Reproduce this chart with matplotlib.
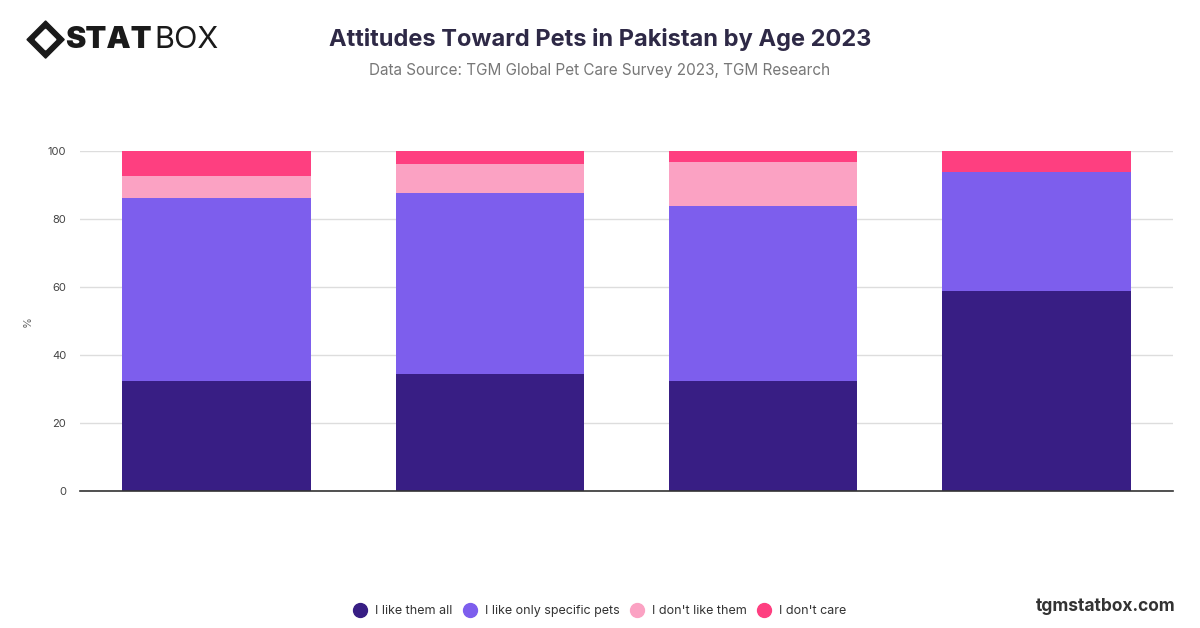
import matplotlib.pyplot as plt
import matplotlib.patches as patches
import numpy as np

plt.rcParams['font.family'] = ['Inter', 'DejaVu Sans']

age_groups = ['18-24', '25-34', '35-44', '45+']
series_names = ['I like them all', 'I like only specific pets', "I don't like them", "I don't care"]
like_all = [32.4, 34.3, 32.3, 58.8]
like_specific = [53.7, 53.3, 51.5, 35.1]
dont_like = [6.5, 8.6, 12.9, 0.0]
dont_care = [7.4, 3.8, 3.3, 6.1]
colors = ['#381e84', '#7d5eed', '#fba2c3', '#fe3f80']


fig = plt.figure(figsize=(12, 6.28), dpi=100)
ax = fig.add_axes([0.0667, 0.218, 0.9108, 0.5414])

x = np.arange(len(age_groups))
bottom = np.zeros(len(age_groups))
for vals, name, col in zip([like_all, like_specific, dont_like, dont_care], series_names, colors):
    ax.bar(x, vals, width=0.69, bottom=bottom, color=col, label=name, zorder=2)
    bottom = bottom + np.array(vals)

ax.set_xlim(-0.5, 3.5)
ax.set_ylim(0, 100)
ax.set_yticks([0, 20, 40, 60, 80, 100])
ax.set_xticks([])
ax.grid(axis='y', color='#dddddd', linewidth=1, zorder=0)
for s in ['top', 'right', 'left']:
    ax.spines[s].set_visible(False)
ax.spines['bottom'].set_color('#333333')
ax.spines['bottom'].set_linewidth(1.2)
ax.tick_params(axis='y', length=0, pad=10, labelsize=8, labelcolor='#444444')
ax.set_ylabel('%', fontsize=8, color='#666666')
ax.yaxis.set_label_coords(-0.043, 0.5)

# title block
fig.text(0.5, 0.937, 'Attitudes Toward Pets in Pakistan by Age 2023', ha='center', va='center',
         fontsize=17, fontweight='bold', color='#2e2946')
fig.text(0.5, 0.887, 'Data Source: TGM Global Pet Care Survey 2023, TGM Research', ha='center', va='center',
         fontsize=11, color='#777777')

# logo
cx, cy = 0.038, 0.937
d = 0.0155
asp = 1200 / 628
diamond = patches.Polygon([[cx - d, cy], [cx, cy + d * asp], [cx + d, cy], [cx, cy - d * asp]],
                          closed=True, transform=fig.transFigure, color='#1a1a1a')
fig.patches.append(diamond)
d2 = d * 0.55
inner = patches.Polygon([[cx - d2, cy], [cx, cy + d2 * asp], [cx + d2, cy], [cx, cy - d2 * asp]],
                        closed=True, transform=fig.transFigure, color='white')
fig.patches.append(inner)
fig.text(0.054, 0.937, 'STAT', ha='left', va='center', fontsize=22, fontweight='black', color='#1a1a1a')
fig.text(0.1285, 0.937, 'BOX', ha='left', va='center', fontsize=22, color='#1a1a1a')

# legend
handles = [plt.Line2D([], [], marker='o', linestyle='', markersize=10, color=c) for c in colors]
fig.legend(handles, series_names, loc='center', bbox_to_anchor=(0.5, 0.027), ncol=4, frameon=False,
           fontsize=9, handlelength=1.0, columnspacing=0.9, handletextpad=0.7, labelcolor='#333333')

fig.text(0.98, 0.035, 'tgmstatbox.com', ha='right', va='center', fontsize=12.5,
         fontweight='bold', color='#333333')

fig.savefig('out.png', dpi=100)
